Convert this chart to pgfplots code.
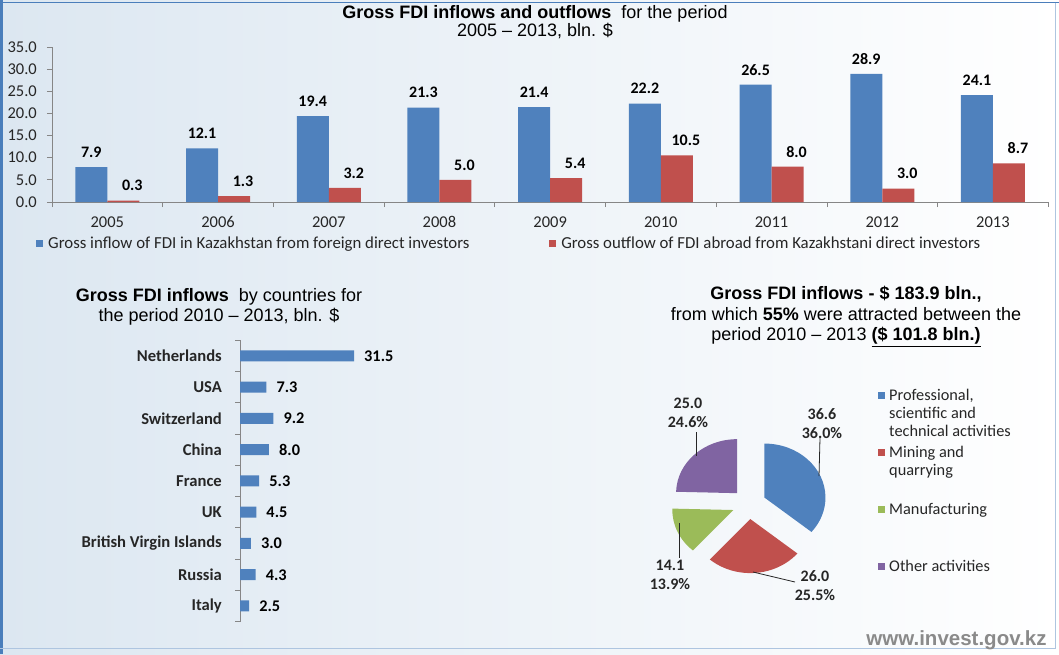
\documentclass[border=0pt]{standalone}
\usepackage{pgfplots}
\pgfplotsset{compat=1.18}
\usepackage{fontspec}
\setmainfont{Liberation Sans}
\newfontfamily\calfont{Carlito}
\definecolor{cblue}{HTML}{4F81BD}
\definecolor{cred}{HTML}{C0504D}
\definecolor{cgreen}{HTML}{9BBB59}
\definecolor{cpurple}{HTML}{8064A2}
\definecolor{axisgray}{HTML}{868686}
\definecolor{frameblue}{HTML}{4A7EBB}
\definecolor{bgblue}{HTML}{DCE7F1}
\definecolor{urlgray}{HTML}{8A8A8A}
\definecolor{txt}{HTML}{262626}
\newcommand{\fs}[1]{\fontsize{#1}{#1}\selectfont}
\pgfplotsset{/pgf/number format/assume math mode=true}
\begin{document}
\begin{tikzpicture}
\useasboundingbox (0,0) rectangle (1059pt,-654pt);
\shade[left color=bgblue, right color=white, middle color=bgblue!50] (0,0) rectangle (1059pt,-654pt);
% frame
\draw[frameblue, line width=3pt] (1.5pt,0) -- (1.5pt,-654pt);
\draw[frameblue, line width=1pt] (0,-2.5pt) -- (1059pt,-2.5pt);
\draw[frameblue!45, line width=1pt] (1055.5pt,-2.5pt) -- (1055.5pt,-648pt);
\draw[frameblue!45, line width=1pt] (0,-648pt) -- (1055.5pt,-648pt);

% ---------- top chart ----------
\node[align=center, font=\fontsize{18}{17}\selectfont, text=black] at (535pt,-22.5pt)
  {\textbf{Gross FDI inflows and outflows}\ \ for the period\\2005 – 2013, bln. \$};
\begin{axis}[
  at={(52pt,-202pt)}, anchor=south west,
  x=110.7pt, y=4.43pt,
  xmin=-0.5, xmax=8.5, ymin=0, ymax=35,
  axis x line*=bottom, axis y line*=left,
  axis line style={-, draw=axisgray, line width=0.8pt},
  tick style={draw=axisgray, line width=0.8pt},
  tick align=outside, major tick length=5pt,
  xtick={-0.5,0.5,...,8.5}, xticklabels={},
  extra x ticks={0,1,...,8},
  extra x tick labels={2005,2006,2007,2008,2009,2010,2011,2012,2013},
  extra x tick style={major tick length=0pt, xticklabel style={inner sep=0pt, anchor=base, yshift=-25.5pt}},
  ytick={0,5,...,35},
  yticklabel style={inner sep=0pt, xshift=-10pt, /pgf/number format/.cd, fixed, fixed zerofill, precision=1},
  ticklabel style={font=\calfont\fs{16.5}, text=txt},
  ybar, bar width=32pt,
  clip=false,
  legend columns=2,
  legend style={draw=none, fill=none, at={(-0.016,-0.2645)}, anchor=west, inner sep=0pt,
    font=\calfont\fs{16.8}, text=txt, nodes={inner sep=0pt}, column sep=5pt},
]
\addplot[fill=cblue, draw=none, bar shift=-16pt,
  legend image code/.code={\fill[cblue] (0pt,-3.5pt) rectangle (7pt,3.5pt);},
  nodes near coords={\pgfmathprintnumber[fixed,fixed zerofill,precision=1]{\pgfplotspointmeta}},
  every node near coord/.append style={font=\calfont\bfseries\fs{16}, text=black, anchor=center, yshift=15pt, inner sep=0pt}]
  coordinates {(0,7.9) (1,12.1) (2,19.4) (3,21.3) (4,21.4) (5,22.2) (6,26.5) (7,28.9) (8,24.1)};
\addlegendentry{\makebox[496pt][l]{Gross inflow of FDI in Kazakhstan from foreign direct investors}}
\addplot[fill=cred, draw=none, bar shift=16pt,
  legend image code/.code={\fill[cred] (0pt,-3.5pt) rectangle (7pt,3.5pt);},
  nodes near coords={\pgfmathprintnumber[fixed,fixed zerofill,precision=1]{\pgfplotspointmeta}},
  every node near coord/.append style={font=\calfont\bfseries\fs{16}, text=black, anchor=center, yshift=15pt, xshift=9pt, inner sep=0pt}]
  coordinates {(0,0.3) (1,1.3) (2,3.2) (3,5.0) (4,5.4) (5,10.5) (6,8.0) (7,3.0) (8,8.7)};
\addlegendentry{Gross outflow of FDI abroad from Kazakhstani direct investors}
\end{axis}

% ---------- bottom-left chart ----------
\node[align=center, font=\fontsize{18}{20}\selectfont, text=black] at (219pt,-307pt)
  {\textbf{Gross FDI inflows}\ \ by countries for\\the period 2010 – 2013, bln. \$};
\begin{axis}[
  at={(240pt,-621.6pt)}, anchor=south west,
  x=3.62pt, y=31.25pt,
  xmin=0, xmax=40, ymin=-0.5, ymax=8.5,
  axis x line=none, axis y line*=left,
  axis line style={-, draw=axisgray, line width=0.8pt},
  tick style={draw=axisgray, line width=0.8pt},
  tick align=outside, major tick length=5pt,
  ytick={-0.5,0.5,...,8.5}, yticklabels={},
  extra y ticks={0,1,...,8},
  extra y tick labels={Italy,Russia,British Virgin Islands,UK,France,China,Switzerland,USA,Netherlands},
  extra y tick style={major tick length=0pt, yticklabel style={font=\calfont\bfseries\fs{16.6}, text=txt, inner sep=0pt, xshift=-18pt}},
  xbar, bar width=11pt, clip=false,
]
\addplot[fill=cblue, draw=none,
  nodes near coords={\pgfmathprintnumber[fixed,fixed zerofill,precision=1]{\pgfplotspointmeta}},
  every node near coord/.append style={font=\calfont\bfseries\fs{16.3}, text=black, anchor=west, xshift=10pt, inner sep=0pt}]
  coordinates {(2.5,0) (4.3,1) (3.0,2) (4.5,3) (5.3,4) (8.0,5) (9.2,6) (7.3,7) (31.5,8)};
\end{axis}

% ---------- pie chart ----------
\node[align=center, font=\fontsize{18}{20.5}\selectfont, text=black] at (846pt,-316.5pt)
  {\textbf{Gross FDI inflows - \$ 183.9 bln.,}\\from which \textbf{55\%} were attracted between the\\period 2010 – 2013 \textbf{\underline{(\$ 101.8 bln.)}}};
\pgfmathsetmacro{\tot}{36.6+26.0+14.1+25.0}
\pgfmathsetmacro{\aA}{90}
\pgfmathsetmacro{\aB}{\aA-360*36.6/\tot}
\pgfmathsetmacro{\aC}{\aB-360*26.0/\tot}
\pgfmathsetmacro{\aD}{\aC-360*14.1/\tot}
\pgfmathsetmacro{\aE}{\aD-360*25.0/\tot}
\begin{axis}[
  at={(749pt,-504pt)}, anchor=center,
  x=61pt, y=54pt, xmin=-1.6, xmax=1.6, ymin=-1.6, ymax=1.6,
  hide axis, clip=false,
]
\fill[cblue] ({0.28*cos((\aA+\aB)/2)},{0.28*sin((\aA+\aB)/2)}) -- +(\aA:61pt and 54pt)
  arc[start angle=\aA, end angle=\aB, x radius=61pt, y radius=54pt] -- cycle;
\fill[cred] ({0.28*cos((\aB+\aC)/2)},{0.28*sin((\aB+\aC)/2)}) -- +(\aB:61pt and 54pt)
  arc[start angle=\aB, end angle=\aC, x radius=61pt, y radius=54pt] -- cycle;
\fill[cgreen] ({0.28*cos((\aC+\aD)/2)},{0.28*sin((\aC+\aD)/2)}) -- +(\aC:61pt and 54pt)
  arc[start angle=\aC, end angle=\aD, x radius=61pt, y radius=54pt] -- cycle;
\fill[cpurple] ({0.28*cos((\aD+\aE)/2)},{0.28*sin((\aD+\aE)/2)}) -- +(\aD:61pt and 54pt)
  arc[start angle=\aD, end angle=\aE, x radius=61pt, y radius=54pt] -- cycle;
\end{axis}
% pie leader lines and labels
\draw[black!85, line width=0.8pt] (696pt,-432pt) -- (696pt,-456pt);
\draw[black!85, line width=0.8pt] (820pt,-438pt) -- (819pt,-476pt);
\draw[black!85, line width=0.8pt] (679pt,-523pt) -- (679pt,-558pt);
\draw[black!85, line width=0.8pt] (753pt,-572pt) -- (795pt,-582pt);
\begin{scope}[every node/.style={align=center, font=\calfont\bfseries\fontsize{16}{19}\selectfont, text=txt}]
\node at (688pt,-412.5pt) {25.0\\24.6\%};
\node at (822pt,-423.5pt) {36.6\\36.0\%};
\node at (670pt,-575pt) {14.1\\13.9\%};
\node at (815pt,-585.5pt) {26.0\\25.5\%};
\end{scope}
% pie legend
\begin{scope}[every node/.style={anchor=base west, inner sep=0pt, font=\calfont\fs{16.3}, text=txt}]
\fill[cblue] (878pt,-391.5pt) rectangle (885pt,-398.5pt);
\node at (889pt,-400pt) {Professional,};
\node at (889pt,-418pt) {scientific and};
\node at (889pt,-436pt) {technical activities};
\fill[cred] (878pt,-448.5pt) rectangle (885pt,-455.5pt);
\node at (889pt,-457pt) {Mining and};
\node at (889pt,-475pt) {quarrying};
\fill[cgreen] (878pt,-505.5pt) rectangle (885pt,-512.5pt);
\node at (889pt,-514pt) {Manufacturing};
\fill[cpurple] (878pt,-562.5pt) rectangle (885pt,-569.5pt);
\node at (889pt,-571pt) {Other activities};
\end{scope}
% source
\node[anchor=east, font=\bfseries\fs{20.5}, text=urlgray] at (1050pt,-640pt) {www.invest.gov.kz};
\end{tikzpicture}
\end{document}
